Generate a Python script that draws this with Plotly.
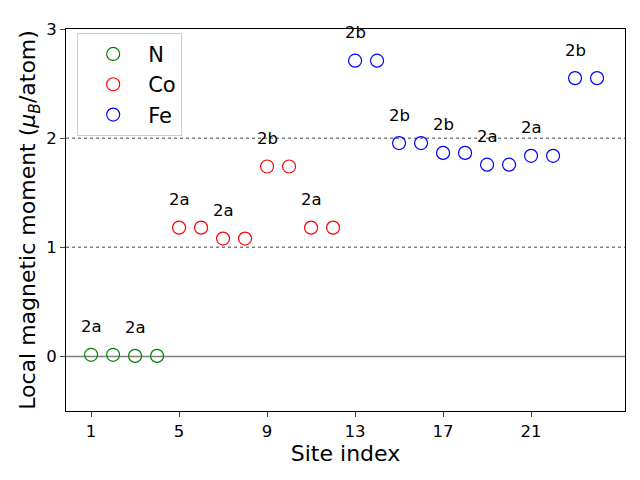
import plotly.graph_objects as go

site_N = [1, 2, 3, 4]
mom_N = [0.015, 0.015, 0.005, 0.005]
site_Co = [5, 6, 7, 8, 9, 10, 11, 12]
mom_Co = [1.18, 1.18, 1.08, 1.08, 1.74, 1.74, 1.18, 1.18]
site_Fe = [13, 14, 15, 16, 17, 18, 19, 20, 21, 22, 23, 24]
mom_Fe = [2.71, 2.71, 1.955, 1.955, 1.865, 1.865, 1.757, 1.757, 1.838, 1.838, 2.55, 2.55]

label_sites = [1, 3, 5, 7, 9, 11, 13, 15, 17, 19, 21, 23]
label_text = ["2a", "2a", "2a", "2a", "2b", "2a", "2b", "2b", "2b", "2a", "2a", "2b"]
label_y = [0.015, 0.005, 1.18, 1.08, 1.74, 1.18, 2.71, 1.955, 1.865, 1.757, 1.838, 2.55]

xticks = [1, 5, 9, 13, 17, 21]
yticks = [0, 1, 2, 3]

FONT = "DejaVu Sans"
fig = go.Figure()

# reference lines
fig.add_hline(y=0, line=dict(color="gray", width=1.5), layer="below")
for yv in [1, 2]:
    fig.add_hline(y=yv, line=dict(color="gray", width=1.5, dash="dot"), layer="below")

for name, xs, ys, col in [("N", site_N, mom_N, "green"), ("Co", site_Co, mom_Co, "red"), ("Fe", site_Fe, mom_Fe, "blue")]:
    fig.add_trace(go.Scatter(x=xs, y=ys, mode="markers", name=name, legendgroup=name,
                             marker=dict(symbol="circle-open", size=13, color=col, line=dict(width=1.2, color=col))))

for xs, t, yv in zip(label_sites, label_text, label_y):
    fig.add_annotation(x=xs, y=yv, text=t, showarrow=False, yshift=28, xanchor="center", yanchor="middle",
                       font=dict(family=FONT, size=16.5, color="black"))

fig.update_layout(
    width=632, height=472,
    margin=dict(l=58, r=15, t=14, b=69),
    plot_bgcolor="white", paper_bgcolor="white",
    font=dict(family=FONT, size=16.5, color="black"),
    showlegend=True,
    legend=dict(x=0.02, y=0.99, xanchor="left", yanchor="top",
                bordercolor="#cccccc", borderwidth=1, bgcolor="rgba(255,255,255,0.8)",
                font=dict(family=FONT, size=21), tracegroupgap=0,
                itemwidth=60),
    xaxis=dict(range=[-0.14, 25.27], tickvals=xticks, ticks="outside", ticklen=5, tickwidth=1.1,
               showgrid=False, zeroline=False, showline=True, linecolor="black", linewidth=1.1, mirror=True,
               title=dict(text="Site index", font=dict(family=FONT, size=22), standoff=4),
               tickfont=dict(size=16.5)),
    yaxis=dict(range=[-0.5, 3], tickvals=yticks, ticks="outside", ticklen=5, tickwidth=1.1,
               showgrid=False, zeroline=False, showline=True, linecolor="black", linewidth=1.1, mirror=True,
               title=dict(text="Local magnetic moment (<i>μ</i><sub><i>B</i></sub>/atom)", font=dict(family=FONT, size=22), standoff=4),
               tickfont=dict(size=16.5)),
)

fig.write_html("out.html")
